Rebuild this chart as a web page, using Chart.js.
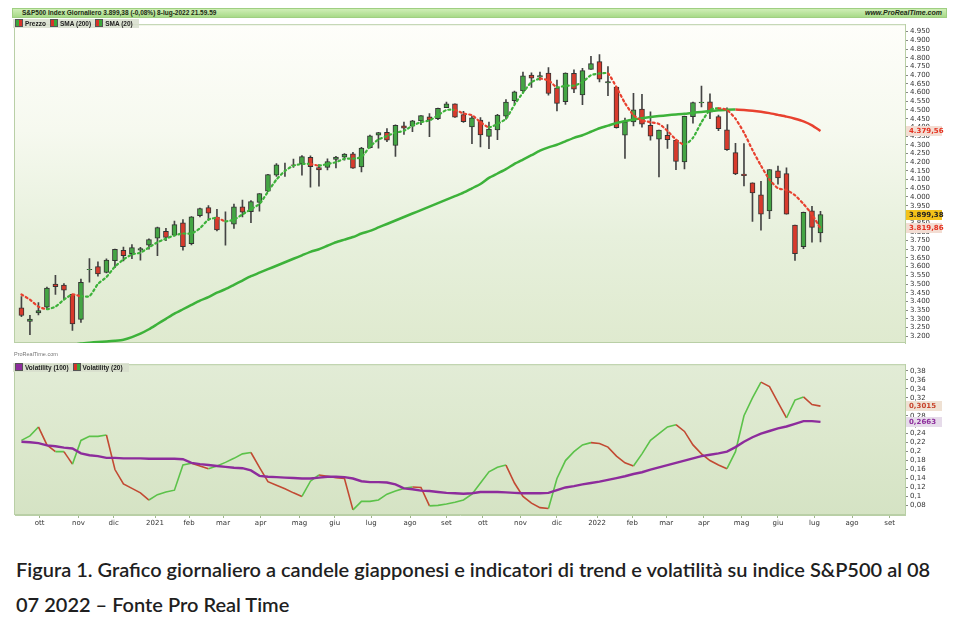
<!DOCTYPE html>
<html lang="it">
<head>
<meta charset="utf-8">
<script src="https://cdn.jsdelivr.net/npm/chart.js@4.4.1/dist/chart.umd.min.js"></script>
<style>
  body { margin: 0; background: #fff; width: 955px; height: 626px; overflow: hidden; font-family: 'DejaVu Sans', sans-serif; position: relative; }
  #header { position: absolute; left: 12px; top: 8px; width: 935px; height: 10px; background: linear-gradient(#cfeeb6, #a8da88); box-sizing: border-box; border: 1px solid #9fcf82; font: bold 6.5px 'Liberation Sans', sans-serif; color: #1c2a14; line-height: 8px; }
  #header .l { position: absolute; left: 9px; top: 0; }
  #header .r { position: absolute; right: 4px; top: 0; font-style: italic; font-size: 7px; }
  canvas { position: absolute; left: 12px; }
  #priceChart { top: 18px; }
  #volChart { top: 358px; }
  .legend { position: absolute; left: 13px; height: 9px; background: rgba(215, 222, 205, 0.85); font: bold 6.5px 'Liberation Sans', sans-serif; color: #222; line-height: 9px; padding: 0 2px; white-space: nowrap; }
  .legend span { margin-right: 4px; }
  .ico { display: inline-block; width: 6px; height: 6px; vertical-align: -1px; margin-right: 2px; border: 1px solid #555; }
  .rg { background: linear-gradient(90deg, #d8332a 50%, #3aa83a 50%); }
  .gr { background: linear-gradient(90deg, #3aa83a 50%, #d8332a 50%); }
  .pu { background: #8d2c9c; }
  #wm { position: absolute; left: 14px; top: 351px; font: 5.5px 'Liberation Sans', sans-serif; color: #777; }
  #caption { position: absolute; left: 16px; top: 552px; width: 935px; font: 600 20px Lato, 'Open Sans', sans-serif; color: #1f1f1f; line-height: 35px; white-space: nowrap; }
</style>
</head>
<body>
<div id="header"><span class="l">S&amp;P500 Index Giornaliero 3.899,38 (-0,08%) 8-lug-2022 21.59.59</span><span class="r">www.ProRealTime.com</span></div>
<canvas id="priceChart" width="935" height="340"></canvas>
<canvas id="volChart" width="935" height="172"></canvas>
<div class="legend" style="top:19px"><span><i class="ico gr"></i>Prezzo</span><span><i class="ico rg"></i>SMA (200)</span><span><i class="ico rg"></i>SMA (20)</span></div>
<div id="wm">ProRealTime.com</div>
<div class="legend" style="top:363px"><span><i class="ico pu"></i>Volatility (100)</span><span><i class="ico rg"></i>Volatility (20)</span></div>
<div id="caption">Figura 1. Grafico giornaliero a candele giapponesi e indicatori di trend e volatilità su indice S&amp;P500 al 08<br>07 2022 – Fonte Pro Real Time</div>
<script>
// settimane: la prima parte da lunedì 14-set-2020, una candela per settimana fino all'8-lug-2022
const firstWeek = '2020-09-14';
const refDay = '2021-01-04';

const open = [3363, 3285, 3334, 3367, 3500, 3494, 3441, 3296, 3583, 3600, 3566, 3634, 3694, 3675, 3694, 3723,
  3764, 3803, 3781, 3851, 3732, 3893, 3939, 3885, 3842, 3844, 3943, 3916, 3969, 4034, 4125, 4180, 4185, 4192, 4228, 4169,
  4170, 4216, 4229, 4248, 4173, 4284, 4356, 4372, 4296, 4409, 4407, 4437, 4461, 4450, 4514, 4535, 4474, 4403, 4442, 4348,
  4385, 4464, 4553, 4610, 4701, 4689, 4712, 4628, 4548, 4710, 4587, 4733,
  4778, 4656, 4632, 4356, 4431, 4505, 4412, 4332, 4355, 4327, 4202, 4462, 4541, 4547, 4462, 4386, 4255, 4131, 4082, 4013,
  3920, 4151, 4134, 3838, 3715, 3920, 3793];
const high = [3428, 3320, 3393, 3482, 3550, 3502, 3441, 3529, 3646, 3628, 3644, 3701, 3712, 3726, 3711, 3760,
  3827, 3820, 3861, 3870, 3887, 3937, 3950, 3929, 3915, 3960, 3983, 3979, 4020, 4130, 4192, 4195, 4218, 4238, 4236, 4186,
  4219, 4234, 4249, 4256, 4286, 4356, 4372, 4393, 4415, 4430, 4440, 4468, 4480, 4511, 4545, 4536, 4492, 4465, 4457, 4430,
  4475, 4560, 4608, 4718, 4714, 4718, 4744, 4672, 4713, 4731, 4740, 4808,
  4819, 4749, 4632, 4453, 4596, 4590, 4490, 4385, 4416, 4327, 4465, 4546, 4637, 4593, 4471, 4512, 4308, 4307, 4082, 4090,
  4158, 4177, 4168, 3838, 3914, 3946, 3918];
const low = [3313, 3209, 3323, 3354, 3440, 3416, 3234, 3279, 3511, 3545, 3564, 3594, 3633, 3646, 3637, 3700,
  3663, 3749, 3775, 3694, 3725, 3885, 3866, 3805, 3723, 3820, 3885, 3853, 3918, 4030, 4118, 4118, 4170, 4126, 4056, 4062,
  4155, 4167, 4211, 4164, 4144, 4280, 4281, 4318, 4233, 4360, 4375, 4416, 4347, 4444, 4513, 4457, 4428, 4306, 4288, 4278,
  4329, 4447, 4537, 4596, 4630, 4672, 4585, 4495, 4532, 4600, 4531, 4733,
  4662, 4582, 4395, 4222, 4408, 4401, 4327, 4115, 4279, 4157, 4161, 4424, 4517, 4450, 4381, 4267, 4129, 4063, 3859, 3810,
  3875, 4074, 3901, 3636, 3703, 3741, 3742];
const close = [3319, 3298, 3348, 3477, 3484, 3465, 3270, 3509, 3585, 3558, 3638, 3699, 3663, 3709, 3703, 3756,
  3824, 3768, 3841, 3714, 3886, 3934, 3907, 3811, 3842, 3943, 3913, 3974, 4020, 4129, 4185, 4180, 4181, 4232, 4174, 4156,
  4204, 4230, 4247, 4166, 4281, 4352, 4370, 4327, 4412, 4395, 4437, 4468, 4442, 4509, 4535, 4459, 4433, 4455, 4357, 4391,
  4471, 4545, 4605, 4697, 4683, 4698, 4595, 4538, 4712, 4620, 4726, 4766,
  4677, 4663, 4398, 4432, 4501, 4419, 4349, 4385, 4329, 4204, 4463, 4543, 4546, 4488, 4393, 4272, 4132, 4123, 4024, 3901,
  4158, 4109, 3901, 3675, 3912, 3825, 3899.38];
const sma200 = [3120, 3125, 3130, 3135, 3140, 3145, 3150, 3158, 3163, 3167, 3170, 3174, 3180, 3195, 3215, 3240,
  3270, 3300, 3330, 3355, 3380, 3405, 3425, 3450, 3470, 3495, 3520, 3545, 3565, 3585, 3605, 3625, 3645, 3665, 3685, 3700,
  3720, 3740, 3755, 3770, 3790, 3805, 3825, 3845, 3865, 3885, 3905, 3925, 3945, 3965, 3985, 4005, 4025, 4050, 4075, 4110,
  4135, 4160, 4190, 4215, 4240, 4266, 4285, 4300, 4320, 4340, 4355, 4375,
  4395, 4410, 4425, 4437, 4445, 4453, 4460, 4465, 4470, 4474, 4478, 4484, 4489, 4494, 4498, 4502, 4503, 4500, 4496, 4490,
  4482, 4472, 4462, 4450, 4435, 4412, 4379.56];
const sma20 = [3440, 3410, 3370, 3355, 3370, 3410, 3440, 3430, 3430, 3500, 3540, 3600, 3640, 3670, 3680, 3710,
  3740, 3760, 3780, 3790, 3790, 3820, 3870, 3880, 3860, 3870, 3900, 3930, 3960, 4030, 4100, 4150, 4180, 4190, 4190, 4180,
  4190, 4200, 4220, 4220, 4230, 4290, 4330, 4350, 4370, 4380, 4410, 4430, 4440, 4470, 4500, 4500, 4480, 4470, 4430, 4400,
  4420, 4450, 4530, 4600, 4660, 4680, 4670, 4630, 4640, 4640, 4660, 4700,
  4710, 4710, 4630, 4540, 4470, 4440, 4430, 4420, 4380, 4330, 4300, 4340, 4430, 4500, 4510, 4500, 4450, 4370, 4270, 4180,
  4100, 4050, 4040, 4010, 3960, 3900, 3819.86];
const vol20 = [0.225, 0.235, 0.255, 0.215, 0.200, 0.200, 0.172, 0.225, 0.234, 0.234, 0.237, 0.160, 0.128, 0.118, 0.108, 0.092,
  0.104, 0.110, 0.114, 0.170, 0.174, 0.168, 0.162, 0.168, 0.176, 0.185, 0.195, 0.198, 0.165, 0.133, 0.125, 0.117, 0.108, 0.100, 0.134, 0.148,
  0.145, 0.142, 0.140, 0.070, 0.089, 0.089, 0.092, 0.105, 0.112, 0.118, 0.121, 0.120, 0.079, 0.080, 0.083, 0.087, 0.092, 0.105, 0.130, 0.155,
  0.165, 0.170, 0.130, 0.100, 0.085, 0.075, 0.073, 0.140, 0.180, 0.200, 0.215, 0.220,
  0.218, 0.210, 0.190, 0.175, 0.168, 0.195, 0.225, 0.240, 0.255, 0.260, 0.245, 0.215, 0.195, 0.180, 0.170, 0.162, 0.200, 0.280, 0.320, 0.355,
  0.345, 0.310, 0.275, 0.315, 0.322, 0.305, 0.3015];
const vol100 = [0.222, 0.221, 0.219, 0.214, 0.212, 0.209, 0.207, 0.196, 0.192, 0.190, 0.186, 0.186, 0.185, 0.185, 0.185, 0.184,
  0.184, 0.184, 0.184, 0.183, 0.175, 0.172, 0.170, 0.168, 0.166, 0.164, 0.163, 0.158, 0.146, 0.144, 0.143, 0.142, 0.141, 0.140, 0.140, 0.142,
  0.144, 0.144, 0.143, 0.140, 0.134, 0.132, 0.132, 0.131, 0.127, 0.118, 0.116, 0.113, 0.112, 0.110, 0.108, 0.107, 0.106, 0.107, 0.110, 0.110,
  0.110, 0.109, 0.108, 0.107, 0.107, 0.107, 0.108, 0.114, 0.120, 0.123, 0.127, 0.130,
  0.133, 0.137, 0.141, 0.145, 0.150, 0.154, 0.160, 0.165, 0.170, 0.175, 0.180, 0.185, 0.190, 0.193, 0.196, 0.200, 0.210, 0.222, 0.232, 0.240,
  0.246, 0.252, 0.256, 0.262, 0.268, 0.268, 0.2663];

const monthDates = ['2020-10-01', '2020-11-02', '2020-12-01', '2021-01-04', '2021-02-01', '2021-03-01', '2021-04-01', '2021-05-03',
  '2021-06-01', '2021-07-01', '2021-08-02', '2021-09-01', '2021-10-01', '2021-11-01', '2021-12-01', '2022-01-03', '2022-02-01',
  '2022-03-01', '2022-04-01', '2022-05-02', '2022-06-01', '2022-07-01', '2022-08-01', '2022-09-01'];
const monthLabels = ['ott', 'nov', 'dic', '2021', 'feb', 'mar', 'apr', 'mag', 'giu', 'lug', 'ago', 'set', 'ott', 'nov', 'dic',
  '2022', 'feb', 'mar', 'apr', 'mag', 'giu', 'lug', 'ago', 'set'];
const priceTicks = [3200, 3250, 3300, 3350, 3400, 3450, 3500, 3550, 3600, 3650, 3700, 3750, 3800, 3850, 3900, 3950,
  4000, 4050, 4100, 4150, 4200, 4250, 4300, 4350, 4400, 4450, 4500, 4550, 4600, 4650, 4700, 4750, 4800, 4850, 4900, 4950];
const volTicks = [0.08, 0.10, 0.12, 0.14, 0.16, 0.18, 0.20, 0.22, 0.24, 0.26, 0.28, 0.30, 0.32, 0.34, 0.36, 0.38];

const GREEN = '#3db23a', RED = '#e8412f', VRED = '#c24a33', VGREEN = '#5cc24a', PURPLE = '#8d2c9c';
const day = d => Date.UTC(+d.slice(0, 4), +d.slice(5, 7) - 1, +d.slice(8, 10)) / 864e5;
const weekX = close.map((c, i) => day(firstWeek) - day(refDay) + i * 7 + 2);
const monthX = monthDates.map(d => day(d) - day(refDay));
const X_MIN = -115.3, X_MAX = 617.6;

const fmtPrice = v => {
  const s = v.toFixed(0);
  return s.slice(0, -3) + '.' + s.slice(-3);
};
const fmtTag = v => {
  const [a, b] = v.toFixed(2).split('.');
  return a.slice(0, -3) + '.' + a.slice(-3) + ',' + b;
};
const fmtVol = v => String(+v.toFixed(2)).replace('.', ',');
const fmtVolTag = v => v.toFixed(4).replace('.', ',');

const slopeColor = (up, down) => c => c.p1.parsed.y >= c.p0.parsed.y ? up : down;

const panelBg = {
  id: 'panelBg',
  beforeDraw(chart, args, opts) {
    const { ctx, chartArea: a } = chart;
    const g = ctx.createLinearGradient(0, a.top, 0, a.bottom);
    opts.colors.forEach((c, i) => g.addColorStop(i / (opts.colors.length - 1), c));
    ctx.save();
    ctx.fillStyle = g;
    ctx.fillRect(a.left, a.top, a.right - a.left, a.bottom - a.top);
    ctx.strokeStyle = '#b9cfa6';
    ctx.lineWidth = 1;
    ctx.strokeRect(a.left - 0.5, a.top + 0.5, a.right - a.left + 1, a.bottom - a.top - 1);
    ctx.restore();
  }
};

const valueTags = {
  id: 'valueTags',
  afterDraw(chart, args, opts) {
    const { ctx, chartArea: a } = chart;
    const y = chart.scales.y;
    ctx.save();
    ctx.font = 'bold 7px "DejaVu Sans"';
    ctx.textBaseline = 'middle';
    opts.tags.forEach(t => {
      const py = Math.round(y.getPixelForValue(t.value));
      ctx.fillStyle = t.bg;
      ctx.fillRect(a.right + 1, py - 5, 36, 10);
      ctx.fillStyle = t.color;
      ctx.fillText(t.text, a.right + 4, py + 0.5);
    });
    ctx.restore();
  }
};

const xScale = (show) => ({
  type: 'linear', min: X_MIN, max: X_MAX, offset: false, display: show,
  afterBuildTicks: s => { s.ticks = monthX.map(v => ({ value: v })); },
  afterFit: s => { s.height = 15; },
  grid: { offset: false, drawOnChartArea: false, tickLength: 3, color: '#9fb58c' },
  border: { color: '#b9cfa6' },
  ticks: { autoSkip: false, maxRotation: 0, padding: 1, color: '#333', font: { size: 7, family: 'DejaVu Sans' },
    callback: (v, i) => monthLabels[i] }
});
const yScale = (min, max, ticks, fmt) => ({
  type: 'linear', position: 'right', min, max,
  afterBuildTicks: s => { s.ticks = ticks.map(v => ({ value: v })); },
  afterFit: s => { s.width = 42; },
  grid: { drawOnChartArea: false, tickLength: 3, color: '#888' },
  border: { color: '#b9cfa6' },
  ticks: { autoSkip: false, padding: 2, color: '#333', font: { size: 7, family: 'DejaVu Sans' }, callback: v => fmt(v) }
});

const n = close.length;
new Chart(document.getElementById('priceChart'), {
  data: {
    datasets: [
      { type: 'line', label: 'SMA (20)', data: weekX.map((x, i) => ({ x, y: sma20[i] })),
        borderWidth: 2.2, borderDash: [2, 3], borderCapStyle: 'round', pointRadius: 0, tension: 0.2,
        segment: { borderColor: slopeColor(GREEN, RED) }, order: 0 },
      { type: 'line', label: 'SMA (200)', data: weekX.map((x, i) => ({ x, y: sma200[i] })),
        borderWidth: 2.5, pointRadius: 0, tension: 0.2,
        segment: { borderColor: slopeColor(GREEN, RED) }, order: 1 },
      { type: 'bar', label: 'Prezzo', data: weekX.map((x, i) => ({ x, y: [open[i], close[i]] })),
        backgroundColor: close.map((c, i) => c >= open[i] ? '#44a544' : '#d83a2c'),
        borderColor: '#333', borderWidth: 1, borderSkipped: false, barThickness: 5, grouped: false, order: 2 },
      { type: 'bar', label: 'wick', data: weekX.map((x, i) => ({ x, y: [low[i], high[i]] })),
        backgroundColor: '#444', barThickness: 1, grouped: false, order: 3 }
    ]
  },
  options: {
    responsive: false, animation: false, devicePixelRatio: 1,
    layout: { padding: { left: 3, top: 0, right: 0, bottom: 0 } },
    plugins: {
      legend: { display: false }, tooltip: { enabled: false },
      panelBg: { colors: ['#fefefa', '#f6f9ef', '#e7f0dc', '#dfeacf'] },
      valueTags: { tags: [
        { value: sma200[n - 1], text: fmtTag(sma200[n - 1]), bg: '#f3ddd3', color: '#e5301f' },
        { value: close[n - 1], text: fmtTag(close[n - 1]), bg: '#f3c21a', color: '#222' },
        { value: sma20[n - 1], text: fmtTag(sma20[n - 1]), bg: '#f3ddd3', color: '#e5301f' }
      ] }
    },
    scales: {
      x: xScale(false),
      y: yScale(3161, 4993, priceTicks, fmtPrice)
    }
  },
  plugins: [panelBg, valueTags]
});

new Chart(document.getElementById('volChart'), {
  data: {
    datasets: [
      { type: 'line', label: 'Volatility (20)', data: weekX.map((x, i) => ({ x, y: vol20[i] })),
        borderWidth: 1.6, pointRadius: 0, segment: { borderColor: slopeColor(VGREEN, VRED) }, order: 1 },
      { type: 'line', label: 'Volatility (100)', data: weekX.map((x, i) => ({ x, y: vol100[i] })),
        borderColor: PURPLE, borderWidth: 2.4, pointRadius: 0, order: 0 }
    ]
  },
  options: {
    responsive: false, animation: false, devicePixelRatio: 1,
    layout: { padding: { left: 3, top: 0, right: 0, bottom: 0 } },
    plugins: {
      legend: { display: false }, tooltip: { enabled: false },
      panelBg: { colors: ['#e2ecd6', '#dce8cd', '#d5e3c4'] },
      valueTags: { tags: [
        { value: vol20[n - 1], text: fmtVolTag(vol20[n - 1]), bg: '#efe1d3', color: '#c8452e' },
        { value: vol100[n - 1], text: fmtVolTag(vol100[n - 1]), bg: '#e6dbea', color: PURPLE }
      ] }
    },
    scales: {
      x: xScale(true),
      y: yScale(0.0586, 0.395, volTicks, fmtVol)
    }
  },
  plugins: [panelBg, valueTags]
});
</script>
</body>
</html>
